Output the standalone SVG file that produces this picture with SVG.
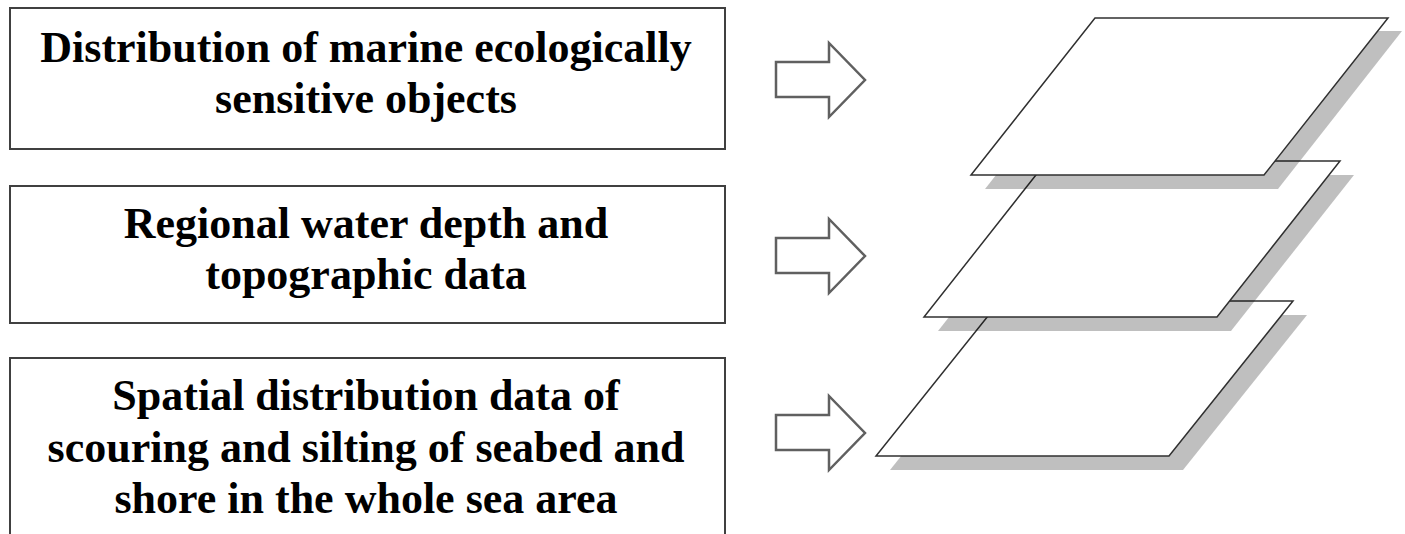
<svg xmlns="http://www.w3.org/2000/svg" width="1405" height="534" viewBox="0 0 1405 534">
  <style>
    .box { fill: #ffffff; stroke: #404040; stroke-width: 2; }
    .label { font-family: "Liberation Serif", "Times New Roman", serif; font-weight: bold; font-size: 44px; fill: #000000; text-anchor: middle; }
    .arrow { fill: #ffffff; stroke: #606060; stroke-width: 2.5; stroke-linejoin: miter; }
    .layer { fill: #ffffff; stroke: #303030; stroke-width: 1.5; stroke-linejoin: miter; }
    .shadow { fill: #000000; fill-opacity: 0.25; }
  </style>
  <defs>
    <filter id="soft" x="-5%" y="-5%" width="110%" height="110%">
      <feGaussianBlur stdDeviation="0.6"/>
    </filter>
  </defs>
  <rect width="1405" height="534" fill="#ffffff"/>

  <g id="node-marine">
    <rect class="box" x="10" y="8" width="715" height="141"/>
    <text class="label" x="366" y="62">Distribution of marine ecologically</text>
    <text class="label" x="366" y="113">sensitive objects</text>
  </g>

  <g id="node-depth">
    <rect class="box" x="10" y="186" width="715" height="137"/>
    <text class="label" x="366" y="238">Regional water depth and</text>
    <text class="label" x="366" y="289">topographic data</text>
  </g>

  <g id="node-scour">
    <rect class="box" x="10" y="358" width="715" height="190"/>
    <text class="label" x="366" y="410">Spatial distribution data of</text>
    <text class="label" x="366" y="462">scouring and silting of seabed and</text>
    <text class="label" x="366" y="513">shore in the whole sea area</text>
  </g>

  <g id="connectors">
    <polygon class="arrow" points="776,62 829,62 829,43 865,80 829,117 829,97 776,97"/>
    <polygon class="arrow" points="776,238 829,238 829,219 865,256 829,293 829,273 776,273"/>
    <polygon class="arrow" points="776,415 829,415 829,396 865,433 829,470 829,450 776,450"/>
  </g>

  <g id="layer-bottom">
    <polygon class="shadow" filter="url(#soft)" points="1014,315 1307,315 1183,470 890,470"/>
    <polygon class="layer" points="1000,301 1293,301 1169,456 876,456"/>
  </g>

  <g id="layer-middle">
    <polygon class="shadow" filter="url(#soft)" points="1061,175 1354,175 1231,331 938,331"/>
    <polygon class="layer" points="1047,161 1340,161 1217,317 924,317"/>
  </g>

  <g id="layer-top">
    <polygon class="shadow" filter="url(#soft)" points="1109,31 1402,31 1278,189 985,189"/>
    <polygon class="layer" points="1095,18 1388,18 1264,175 971,175"/>
  </g>
</svg>
